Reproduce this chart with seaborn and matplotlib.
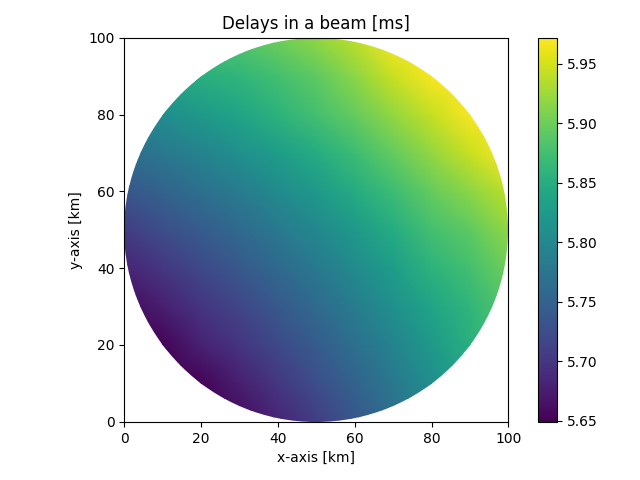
import matplotlib
matplotlib.use("Agg")
import matplotlib.pyplot as plt
from matplotlib.patches import Circle
import seaborn as sns

# Delay readings [ms] at 10 km spacing, rows run from y=0 up to y=100
delay_y000 = [5.594, 5.614, 5.634, 5.657, 5.682, 5.707, 5.735, 5.763, 5.794, 5.827, 5.860]
delay_y010 = [5.614, 5.622, 5.653, 5.676, 5.700, 5.725, 5.751, 5.778, 5.807, 5.838, 5.871]
delay_y020 = [5.634, 5.653, 5.679, 5.699, 5.720, 5.742, 5.767, 5.793, 5.822, 5.852, 5.884]
delay_y030 = [5.657, 5.676, 5.699, 5.717, 5.738, 5.760, 5.784, 5.810, 5.838, 5.860, 5.885]
delay_y040 = [5.682, 5.700, 5.720, 5.738, 5.758, 5.780, 5.803, 5.828, 5.856, 5.875, 5.900]
delay_y050 = [5.707, 5.725, 5.742, 5.760, 5.780, 5.800, 5.823, 5.848, 5.875, 5.892, 5.918]
delay_y060 = [5.735, 5.751, 5.767, 5.784, 5.803, 5.823, 5.846, 5.870, 5.896, 5.915, 5.940]
delay_y070 = [5.763, 5.778, 5.793, 5.810, 5.828, 5.848, 5.870, 5.894, 5.919, 5.945, 5.973]
delay_y080 = [5.794, 5.807, 5.822, 5.838, 5.856, 5.875, 5.896, 5.919, 5.943, 5.969, 5.996]
delay_y090 = [5.827, 5.838, 5.852, 5.860, 5.875, 5.892, 5.915, 5.945, 5.969, 5.994, 6.020]
delay_y100 = [5.860, 5.871, 5.884, 5.885, 5.900, 5.918, 5.940, 5.973, 5.996, 6.020, 6.046]

axis_km = [0, 20, 40, 60, 80, 100]
cbar_ticks = [5.65, 5.70, 5.75, 5.80, 5.85, 5.90, 5.95]

delays = [delay_y000, delay_y010, delay_y020, delay_y030, delay_y040, delay_y050,
          delay_y060, delay_y070, delay_y080, delay_y090, delay_y100]

fig = plt.figure(figsize=(6.4, 4.8), dpi=100)
ax = fig.add_axes([124.3 / 640, 58.2 / 480, 384 / 640, 384 / 480])
cax = fig.add_axes([538 / 640, 58.2 / 480, 19 / 640, 384 / 480])

sns.heatmap(delays, ax=ax, cbar_ax=cax, cmap="viridis", vmin=5.6493, vmax=5.9716,
            xticklabels=False, yticklabels=False, shading="gouraud")

# grid nodes are 10 km apart, beam is the inscribed circle
step = 10
ax.set_xlim(0, 100 / step)
ax.set_ylim(0, 100 / step)
ax.collections[0].set_clip_path(Circle((5, 5), 5, transform=ax.transData))

ax.set_xticks([v / step for v in axis_km], labels=axis_km)
ax.set_yticks([v / step for v in axis_km], labels=axis_km, rotation=0)
for spine in ax.spines.values():
    spine.set_visible(True)
    spine.set_linewidth(0.8)

ax.set_xlabel("x-axis [km]")
ax.set_ylabel("y-axis [km]")
ax.set_title("Delays in a beam [ms]")

cbar = ax.collections[0].colorbar
cbar.set_ticks(cbar_ticks, labels=[f"{t:.2f}" for t in cbar_ticks])
cbar.ax.tick_params(length=3.5, width=0.8, labelsize=10)
cbar.outline.set_visible(True)
cbar.outline.set_linewidth(0.8)

fig.savefig("out.png", dpi=100)
